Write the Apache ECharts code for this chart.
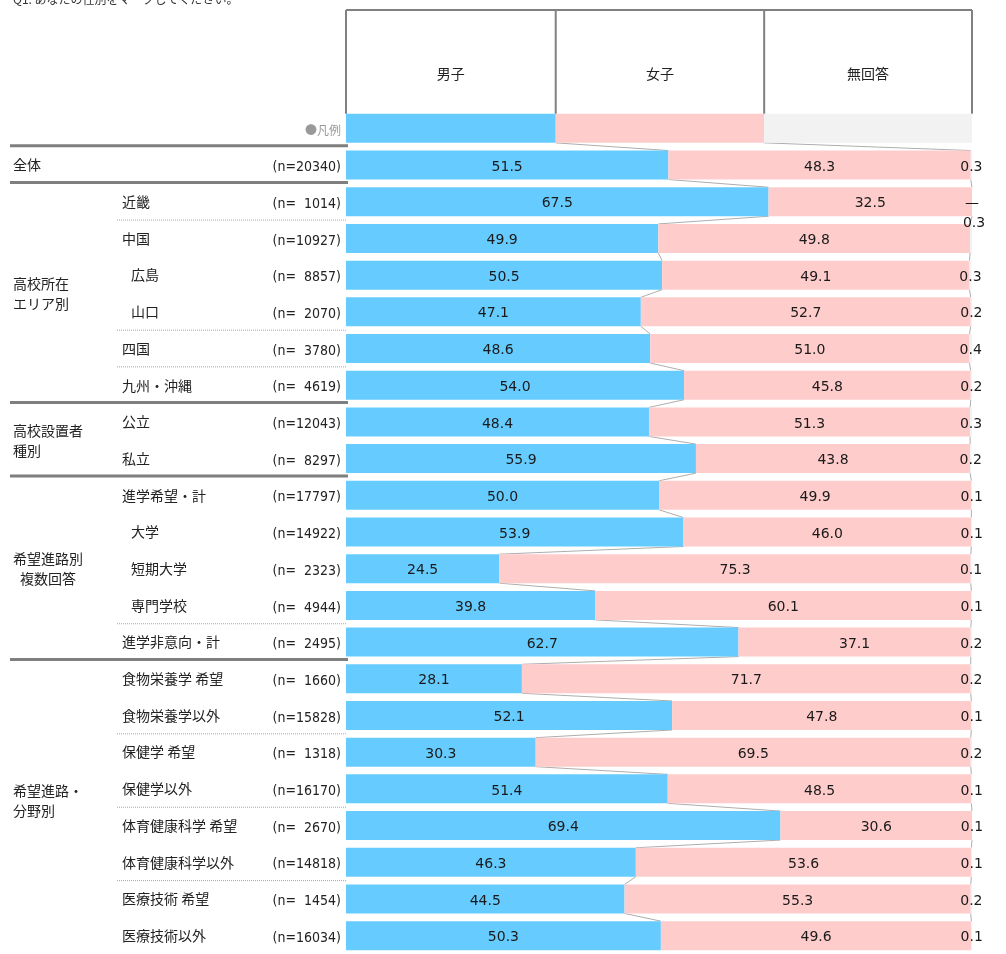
<!DOCTYPE html>
<html>
<head>
<meta charset="utf-8">
<script src="https://cdn.jsdelivr.net/npm/echarts@6/dist/echarts.min.js"></script>
<style>
  html, body { margin: 0; padding: 0; background: #fff; }
  #chart { width: 1006px; height: 954px; }
</style>
</head>
<body>
<div id="chart"></div>
<script>
// 行ラベル（先頭は凡例の行）
const categories = ['凡例', '全体', '近畿', '中国', '広島', '山口', '四国', '九州・沖縄', '公立', '私立',
  '進学希望・計', '大学', '短期大学', '専門学校', '進学非意向・計',
  '食物栄養学 希望', '食物栄養学以外', '保健学 希望', '保健学以外',
  '体育健康科学 希望', '体育健康科学以外', '医療技術 希望', '医療技術以外']
const indented = ['広島', '山口', '大学', '短期大学', '専門学校']
const nCounts = [null, 20340, 1014, 10927, 8857, 2070, 3780, 4619, 12043, 8297,
  17797, 14922, 2323, 4944, 2495, 1660, 15828, 1318, 16170, 2670, 14818, 1454, 16034]
const seriesNames = ['男子', '女子', '無回答']
const legendShare = [33.5, 33.3, 33.2]
const male = [51.5, 67.5, 49.9, 50.5, 47.1, 48.6, 54.0, 48.4, 55.9, 50.0, 53.9,
  24.5, 39.8, 62.7, 28.1, 52.1, 30.3, 51.4, 69.4, 46.3, 44.5, 50.3]
const female = [48.3, 32.5, 49.8, 49.1, 52.7, 51.0, 45.8, 51.3, 43.8, 49.9, 46.0,
  75.3, 60.1, 37.1, 71.7, 47.8, 69.5, 48.5, 30.6, 53.6, 55.3, 49.6]
const noAnswer = [0.3, 0, 0.3, 0.3, 0.2, 0.4, 0.2, 0.3, 0.2, 0.1, 0.1,
  0.1, 0.1, 0.2, 0.2, 0.1, 0.2, 0.1, 0.1, 0.1, 0.2, 0.1]
// グループ（行番号の範囲）
const groups = [
  {name: '全体', from: 1, to: 1},
  {name: '高校所在\nエリア別', from: 2, to: 7},
  {name: '高校設置者\n種別', from: 8, to: 9},
  {name: '希望進路別\n複数回答', from: 10, to: 14, center: true},
  {name: '希望進路・\n分野別', from: 15, to: 22, shift: -7}
]
const thickAfter = [0, 1, 7, 9, 14]
const dottedAfter = [2, 5, 6, 13, 16, 18, 20]

const colors = ['#66ccff', '#ffcccc', '#f2f2f2']
const valFont = '"DejaVu Sans", sans-serif'
const numFont = '"DejaVu Sans Condensed", "DejaVu Sans", "Noto Sans CJK JP", sans-serif'
const jpFont = '"Noto Sans CJK JP", sans-serif'
const barH = 29

var chart = echarts.init(document.getElementById('chart'))

const rows = [male, female, noAnswer]
function makeSeries(k) {
  const data = [{value: legendShare[k], label: {show: false}}]
  rows[k].forEach((v, i) => {
    const item = {value: v}
    // 中国の無回答ラベルは上にずらす
    if (k === 2 && i === 2) item.label = {offset: [3, -15]}
    data.push(item)
  })
  return {
    name: seriesNames[k],
    type: 'bar',
    stack: 'total',
    barWidth: barH,
    silent: true,
    itemStyle: {color: colors[k]},
    label: {
      show: true,
      position: 'inside',
      offset: [0, 2],
      color: '#1a1a1a',
      fontSize: 14,
      fontFamily: valFont,
      formatter: p => p.value === 0 ? '—' : p.value.toFixed(1)
    },
    data: data
  }
}

// つなぎ線用データ
const linkData = []
const cum1 = [legendShare[0]].concat(male)
const cum2 = [legendShare[0] + legendShare[1]].concat(male.map((v, i) => v + female[i]))
for (let i = 0; i < cum1.length - 1; i++) {
  linkData.push([i, cum1[i], cum2[i], cum1[i + 1], cum2[i + 1]])
}

var option = {
  animation: false,
  grid: {left: 346, right: 34, top: 110, bottom: -7},
  xAxis: {type: 'value', min: 0, max: 100, show: false},
  yAxis: [
    {
      type: 'category', inverse: true, data: categories,
      axisLine: {show: false}, axisTick: {show: false}, splitLine: {show: false},
      axisLabel: {
        margin: 224, align: 'left', fontSize: 14, color: '#222', fontFamily: jpFont,
        formatter: (v, i) => {
          if (i < 2) return ''
          return indented.includes(v) ? '{ind|' + v + '}' : v
        },
        rich: {ind: {padding: [0, 0, 0, 9], fontSize: 14, color: '#222', fontFamily: jpFont}}
      }
    },
    {
      type: 'category', inverse: true, data: categories, position: 'left',
      axisLine: {show: false}, axisTick: {show: false}, splitLine: {show: false},
      axisLabel: {
        margin: 5, align: 'right', fontSize: 14, color: '#222', fontFamily: numFont,
        formatter: (v, i) => {
          if (i === 0) return '{leg|●凡例}'
          const n = nCounts[i]
          return '{n|(n=' + (n < 10000 ? '  ' + n : n) + ')}'
        },
        rich: {
          leg: {fontSize: 12, color: '#999', fontFamily: jpFont, padding: [4, 0, 0, 0]},
          n: {fontSize: 14, color: '#222', fontFamily: numFont, padding: [5, 0, 0, 0]}
        }
      }
    }
  ],
  series: [
    makeSeries(0), makeSeries(1), makeSeries(2),
    {
      type: 'custom',
      silent: true,
      encode: {x: [1, 2, 3, 4], y: 0},
      data: linkData,
      z: 1,
      renderItem: function (params, api) {
        const i = api.value(0)
        const children = []
        for (const k of [1, 2]) {
          const p1 = api.coord([api.value(k), i])
          const p2 = api.coord([api.value(k + 2), i + 1])
          children.push({
            type: 'line',
            shape: {x1: p1[0], y1: p1[1] + barH / 2, x2: p2[0], y2: p2[1] - barH / 2},
            style: {stroke: '#adadad', lineWidth: 1}
          })
        }
        return {type: 'group', children: children}
      }
    }
  ]
}
chart.setOption(option)

// 表の罫線・見出しなど
function rowY(i) {
  return chart.convertToPixel({yAxisIndex: 0}, i)
}
function xPix(v) {
  return chart.convertToPixel({xAxisIndex: 0}, v)
}
const graphics = []
graphics.push({
  type: 'text', left: 13, top: -7,
  style: {text: 'Q1. あなたの性別をマークしてください。', fontSize: 12, fill: '#333', fontFamily: jpFont}
})
// 見出し枠
const headTop = 10
const headBottom = rowY(0) - barH / 2
const bounds = [0, legendShare[0], legendShare[0] + legendShare[1], 100].map(xPix)
graphics.push({
  type: 'line', shape: {x1: bounds[0], y1: headTop, x2: bounds[3], y2: headTop},
  style: {stroke: '#808080', lineWidth: 2}
})
bounds.forEach(x => {
  graphics.push({
    type: 'line', shape: {x1: x, y1: headTop, x2: x, y2: headBottom},
    style: {stroke: '#808080', lineWidth: 2}
  })
})
seriesNames.forEach((name, k) => {
  graphics.push({
    type: 'text', x: (bounds[k] + bounds[k + 1]) / 2, y: 74,
    style: {text: name, fontSize: 14, fill: '#222', fontFamily: jpFont, align: 'center', verticalAlign: 'middle'}
  })
})
// 区切り線
thickAfter.forEach(i => {
  const y = (rowY(i) + rowY(i + 1)) / 2 - 1
  graphics.push({
    type: 'line', shape: {x1: 10, y1: y, x2: 348, y2: y},
    style: {stroke: '#7f7f7f', lineWidth: 3}
  })
})
dottedAfter.forEach(i => {
  const y = (rowY(i) + rowY(i + 1)) / 2
  graphics.push({
    type: 'line', shape: {x1: 117, y1: y, x2: 347, y2: y},
    style: {stroke: '#a6a6a6', lineWidth: 1, lineDash: [1, 1]}
  })
})
// グループ名
groups.forEach(g => {
  const y = (rowY(g.from) + rowY(g.to)) / 2 + (g.shift || 0)
  graphics.push({
    type: 'text', x: g.center ? 48 : 13, y: y,
    style: {
      text: g.name, fontSize: 14, lineHeight: 20, fill: '#222', fontFamily: jpFont,
      align: g.center ? 'center' : 'left', verticalAlign: 'middle'
    }
  })
})
chart.setOption({graphic: graphics})
</script>
</body>
</html>
